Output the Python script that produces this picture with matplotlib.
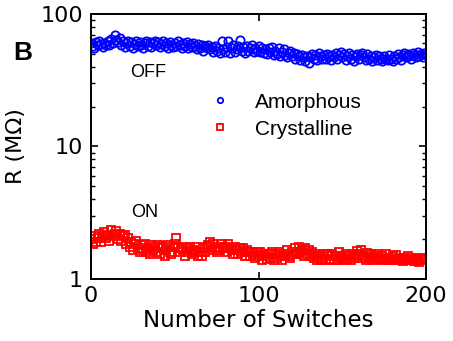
import matplotlib
matplotlib.use('Agg')
import matplotlib.pyplot as plt
from matplotlib.ticker import NullFormatter, LogLocator

switches = list(range(0, 201))

amorphous = [60, 57, 55, 61, 58, 63, 59, 56, 60, 58,
             62, 58, 65, 60, 69, 64, 61, 66, 58, 62,
             56, 60, 63, 57, 61, 55, 59, 62, 57, 61,
             58, 55, 60, 63, 57, 61, 56, 60, 63, 58,
             61, 56, 59, 62, 57, 60, 55, 61, 58, 56,
             60, 57, 62, 58, 55, 60, 57, 61, 55, 59,
             56, 60, 57, 54, 59, 55, 58, 53, 57, 55,
             58, 54, 56, 52, 57, 53, 55, 51, 62, 54,
             52, 56, 63, 51, 55, 58, 52, 54, 57, 64,
             53, 56, 51, 57, 53, 55, 58, 52, 55, 53,
             57, 52, 55, 51, 54, 50, 55, 52, 56, 49,
             53, 50, 55, 48, 52, 54, 49, 47, 51, 53,
             48, 51, 46, 50, 48, 45, 49, 47, 44, 48,
             43, 47, 50, 46, 49, 45, 51, 48, 46, 49,
             46, 50, 48, 45, 49, 47, 51, 46, 49, 52,
             47, 50, 45, 48, 51, 46, 49, 44, 48, 50,
             46, 49, 51, 47, 45, 50, 46, 48, 44, 47,
             49, 45, 48, 46, 44, 48, 46, 45, 49, 46,
             44, 48, 46, 50, 47, 45, 49, 51, 47, 50,
             48, 46, 51, 49, 47, 52, 48, 50, 47, 51,
             49]

crystalline = [2.0, 1.85, 2.1, 1.9, 2.05, 2.2, 1.9, 2.1, 2.25, 2.05,
               2.15, 1.95, 2.35, 2.1, 2.2, 2.3, 2.0, 2.2, 1.95, 2.1,
               2.15, 1.85, 2.05, 1.75, 1.9, 1.65, 1.85, 1.95, 1.7, 1.6,
               1.8, 1.65, 1.85, 1.6, 1.7, 1.55, 1.8, 1.65, 1.75, 1.6,
               1.8, 1.55, 1.7, 1.75, 1.5, 1.65, 1.8, 1.6, 1.55, 1.75,
               1.85, 2.05, 1.7, 1.6, 1.75, 1.65, 1.5, 1.7, 1.6, 1.75,
               1.55, 1.65, 1.6, 1.75, 1.5, 1.6, 1.5, 1.7, 1.6, 1.75,
               1.8, 1.9, 1.65, 1.85, 1.7, 1.6, 1.75, 1.65, 1.85, 1.7,
               1.75, 1.6, 1.85, 1.7, 1.65, 1.55, 1.75, 1.65, 1.55, 1.7,
               1.6, 1.7, 1.5, 1.65, 1.6, 1.5, 1.6, 1.55, 1.45, 1.6,
               1.5, 1.6, 1.4, 1.55, 1.5, 1.42, 1.55, 1.45, 1.6, 1.4,
               1.55, 1.45, 1.6, 1.5, 1.4, 1.55, 1.5, 1.65, 1.5, 1.45,
               1.6, 1.55, 1.7, 1.55, 1.75, 1.6, 1.65, 1.5, 1.7, 1.55,
               1.65, 1.5, 1.6, 1.45, 1.55, 1.4, 1.5, 1.38, 1.45, 1.55,
               1.4, 1.55, 1.5, 1.42, 1.55, 1.4, 1.5, 1.38, 1.6, 1.45,
               1.5, 1.4, 1.55, 1.42, 1.48, 1.38, 1.55, 1.45, 1.5, 1.62,
               1.55, 1.65, 1.45, 1.5, 1.4, 1.58, 1.45, 1.55, 1.4, 1.5,
               1.42, 1.55, 1.45, 1.38, 1.5, 1.42, 1.55, 1.4, 1.45, 1.38,
               1.48, 1.4, 1.52, 1.38, 1.45, 1.42, 1.36, 1.45, 1.4, 1.48,
               1.38, 1.45, 1.4, 1.36, 1.44, 1.4, 1.35, 1.42, 1.38, 1.44,
               1.4]

plt.rcParams['font.family'] = ['DejaVu Sans']

fig = plt.figure(figsize=(4.53, 3.41), dpi=100)
ax = fig.add_axes([0.201, 0.182, 0.7395, 0.777])

ax.plot(switches, amorphous, linestyle='none', marker='o', markersize=6,
        markerfacecolor='none', markeredgecolor='#0000ff', markeredgewidth=1.3,
        label='Amorphous')
ax.plot(switches, crystalline, linestyle='none', marker='s', markersize=6,
        markerfacecolor='none', markeredgecolor='#ff0000', markeredgewidth=1.3,
        label='Crystalline')

ax.set_yscale('log')
ax.set_ylim(1, 100)
ax.set_xlim(0, 200)
ax.set_xticks([0, 100, 200])
ax.set_yticks([1, 10, 100])
ax.set_yticklabels(['1', '10', '100'])
ax.yaxis.set_minor_locator(LogLocator(base=10, subs=range(2, 10)))
ax.yaxis.set_minor_formatter(NullFormatter())

ax.tick_params(which='both', direction='in', top=True, right=True, labelsize=16)
ax.tick_params(axis='y', pad=6)
ax.tick_params(axis='x', pad=5)
ax.tick_params(which='major', length=5, width=1.2)
ax.tick_params(which='minor', length=3, width=1)
for s in ax.spines.values():
    s.set_linewidth(1.4)

ax.set_xlabel('Number of Switches', fontsize=16.5, labelpad=2)
ax.set_ylabel('R (M\u03a9)', fontsize=16, labelpad=10)

ax.text(34, 36, 'OFF', fontsize=13, family='Liberation Sans', ha='center', va='center')
ax.text(32, 3.15, 'ON', fontsize=13, family='Liberation Sans', ha='center', va='center')

ax.legend(loc='center left', bbox_to_anchor=(0.4627, 0.661),
          bbox_transform=fig.transFigure, frameon=False,
          prop={'family': 'Liberation Sans', 'size': 15}, markerscale=0.65,
          handlelength=1.0, handletextpad=1.18, labelspacing=0.39,
          borderpad=0, borderaxespad=0)

fig.text(0.0287, 0.824, 'B', fontsize=19, fontweight='bold',
         family='Liberation Sans', va='baseline')

fig.savefig('out.png', dpi=100)
